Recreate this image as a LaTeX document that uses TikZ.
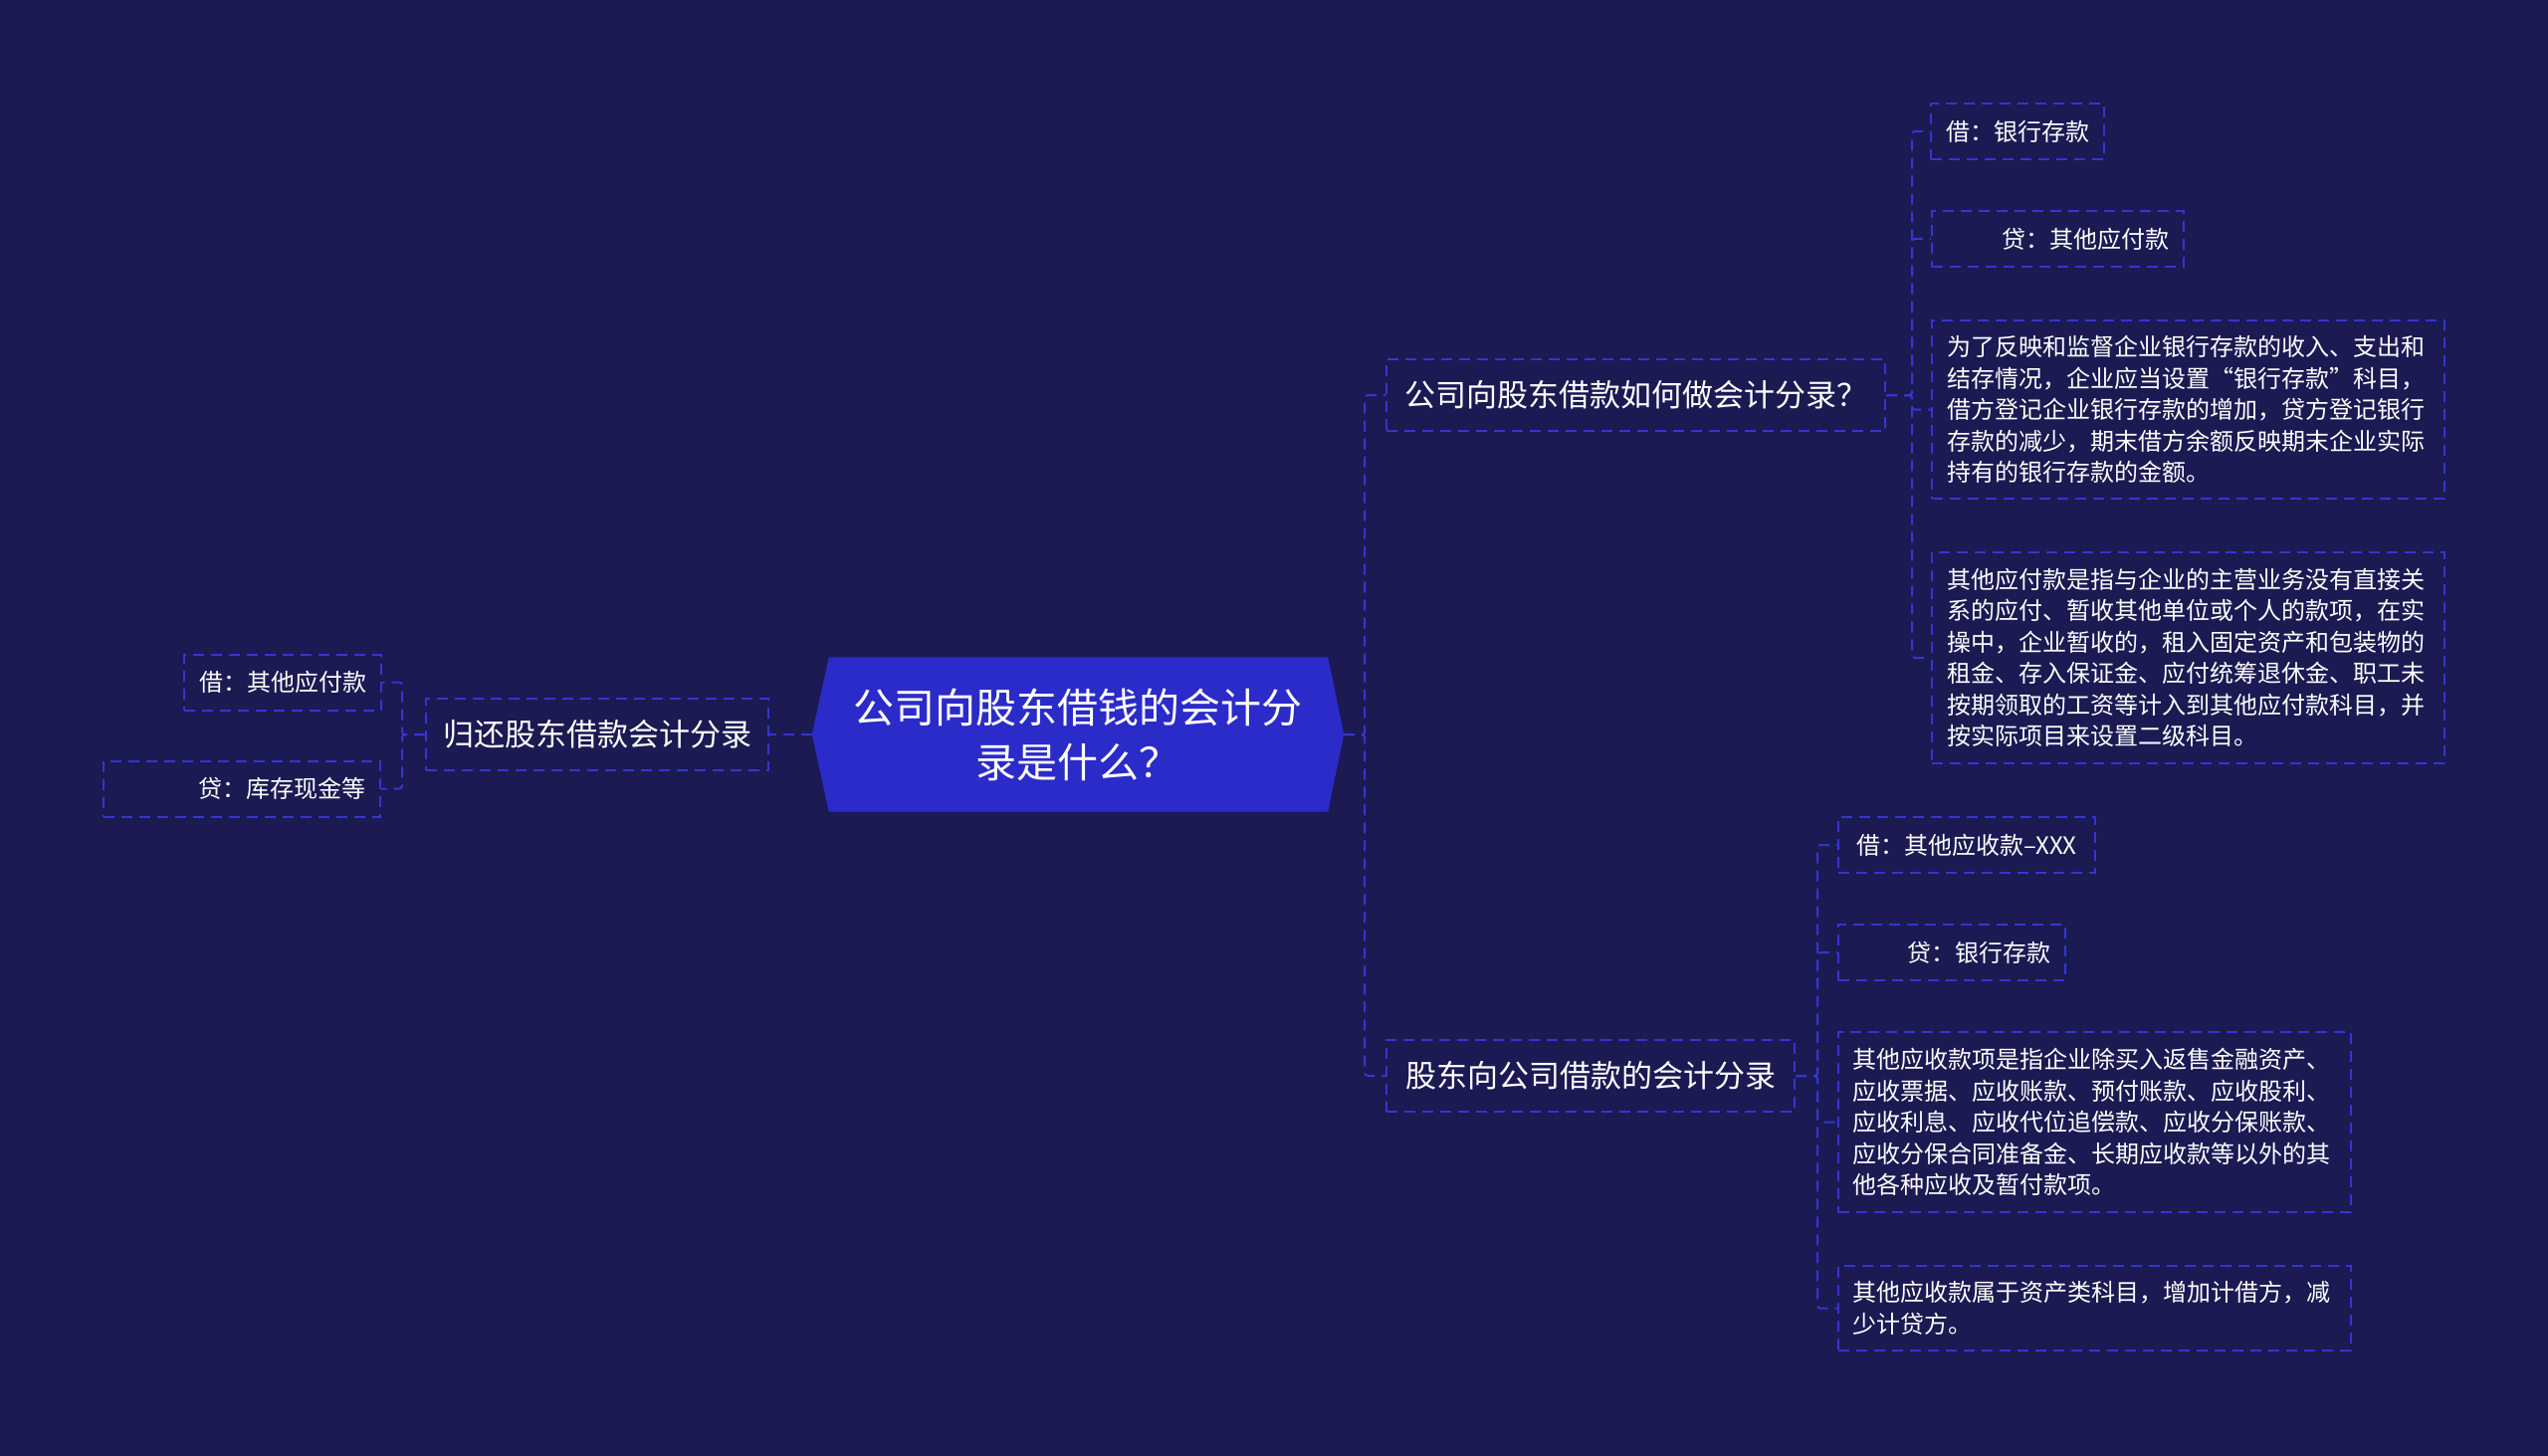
\documentclass[tikz,border=0pt]{standalone}
\usepackage{fontspec}
\setmainfont{Noto Sans CJK SC}
\usetikzlibrary{calc,backgrounds}
\definecolor{cBg}{HTML}{1B1A53}
\definecolor{cHub}{HTML}{2B2BC9}
\definecolor{cLine}{HTML}{3535D2}
\tikzset{
  box/.style={draw=cLine, line width=2pt, dash pattern=on 11pt off 7pt,
    text=white, inner xsep=15pt, inner ysep=0pt, minimum height=56pt},
  hub/.style={text=white, align=center, inner sep=0pt,
    font=\fontsize{41}{55}\selectfont, minimum width=534pt, minimum height=155pt},
  topic/.style={box, font=\fontsize{31}{40}\selectfont, minimum height=72pt, inner xsep=17pt},
  leaf/.style={box, font=\fontsize{24}{31.5}\selectfont, align=left},
  leafr/.style={leaf, align=right},
  para/.style={leaf, text width=485pt},
  link/.style={draw=cLine, line width=2pt, dash pattern=on 11pt off 7pt, rounded corners=3pt},
}

\begin{document}
\begin{tikzpicture}[x=1pt, y=-1pt]
    % --- canvas ---
    \begin{scope}[on background layer]
      \fill[cBg] (0,0) rectangle (2560,1463);
    \end{scope}
    \useasboundingbox (0,0) rectangle (2560,1463);
    % --- central topic ---
    \node[hub] (hub) at (1083,738) {公司向股东借钱的会计分\\录是什么？};
    \begin{scope}[on background layer]
      \fill[cHub] ($(hub.north west)+(17,0)$) -- ($(hub.north east)+(-16,0)$) -- (hub.east)
        -- ($(hub.south east)+(-16,0)$) -- ($(hub.south west)+(17,0)$) -- (hub.west) -- cycle;
    \end{scope}
    % --- first level ---
    \node[topic, minimum width=501pt] (ask)   at (1643.5,397) {公司向股东借款如何做会计分录？};
    \node[topic, minimum width=410pt] (give)  at (1598,1081)  {股东向公司借款的会计分录};
    \node[topic, minimum width=344pt] (repay) at (600,738)    {归还股东借款会计分录};
    % --- leaves of ask ---
    \node[leaf, minimum width=172pt] (a1) at (2027,132) {借：银行存款};
    \node[leafr, text width=223pt]   (a2) at (2067.5,240) {贷：其他应付款};
    \node[para, minimum height=179pt] (a3) at (2198.5,411.5)
      {为了反映和监督企业银行存款的收入、支出和\\结存情况，企业应当设置“银行存款”科目，\\借方登记企业银行存款的增加，贷方登记银行\\存款的减少，期末借方余额反映期末企业实际\\持有的银行存款的金额。};
    \node[para, minimum height=212pt] (a4) at (2198.5,661)
      {其他应付款是指与企业的主营业务没有直接关\\系的应付、暂收其他单位或个人的款项，在实\\操中，企业暂收的，租入固定资产和包装物的\\租金、存入保证金、应付统筹退休金、职工未\\按期领取的工资等计入到其他应付款科目，并\\按实际项目来设置二级科目。};
    % --- leaves of give ---
    \node[leaf, minimum width=258pt] (b1) at (1976,849) {借：其他应收款–XXX};
    \node[leafr, text width=198pt]   (b2) at (1961,957) {贷：银行存款};
    \node[para, minimum height=181pt] (b3) at (2104,1127.5)
      {其他应收款项是指企业除买入返售金融资产、\\应收票据、应收账款、预付账款、应收股利、\\应收利息、应收代位追偿款、应收分保账款、\\应收分保合同准备金、长期应收款等以外的其\\他各种应收及暂付款项。};
    \node[para, minimum height=85pt] (b4) at (2104,1314.5)
      {其他应收款属于资产类科目，增加计借方，减\\少计贷方。};
    % --- leaves of repay ---
    \node[leaf, minimum width=196pt] (l1) at (284,685.5) {借：其他应付款};
    \node[leafr, text width=248pt]   (l2) at (243,792.5) {贷：库存现金等};
    % --- connectors ---
    \draw[link] (hub.east) -- ++(21,0) |- (ask.west);
    \draw[link] (hub.east) -- ++(21,0) |- (give.west);
    \draw[link] (hub.west) -- (repay.east);
    \foreach \n in {a1,a2,a3,a4}
      \draw[link] (ask.east) -- ++(26,0) |- (\n.west);
    \foreach \n in {b1,b2,b3,b4}
      \draw[link] (give.east) -- ++(22,0) |- (\n.west);
    \foreach \n in {l1,l2}
      \draw[link] (repay.west) -- ++(-23,0) |- (\n.east);
\end{tikzpicture}
\end{document}
